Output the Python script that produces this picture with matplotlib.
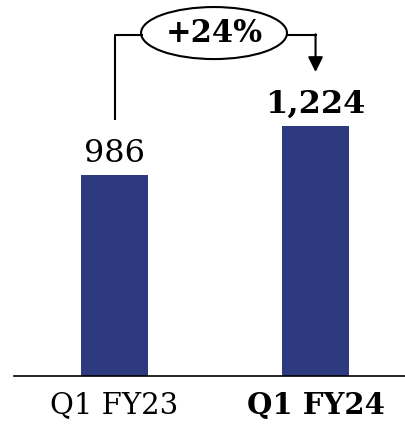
import matplotlib
matplotlib.use('Agg')
import matplotlib.pyplot as plot
from matplotlib.patches import Ellipse

categories = ['Q1 FY23', 'Q1 FY24']
values = [986, 1224]
value_labels = ['986', '1,224']
growth_label = '+24%'

bar_color = '#2E3A80'
plot.rcParams['font.family'] = 'DejaVu Serif'

figure = plot.figure(figsize=(4.06, 4.30), dpi=100)
axes = figure.add_axes([14/406, 54/430, 392/406, 376/430])

x = list(range(len(categories)))
axes.bar(x, values, width=0.333, color=bar_color)
axes.set_xlim(-0.5, 1.45)
axes.set_ylim(0, 1843)

for spine in ['top', 'right', 'left']:
    axes.spines[spine].set_visible(False)
axes.spines['bottom'].set_linewidth(1.2)
axes.set_yticks([])
axes.set_xticks(x)
axes.set_xticklabels(categories, fontsize=21)
axes.tick_params(axis='x', length=0, pad=11)
axes.get_xticklabels()[1].set_fontweight('bold')

#value labels on top of each bar, last one bold
for i in x:
    weight = 'bold' if i == len(x) - 1 else 'normal'
    axes.annotate(value_labels[i], (i, values[i]), xytext=(0, 9.5), textcoords='offset points',
                  ha='center', va='baseline', fontsize=23, fontweight=weight)

#growth connector with ellipse label
line_y = 1671
axes.plot([0, 0, 0.14], [1255, line_y, line_y], color='black', lw=1.5, solid_capstyle='butt')
axes.plot([0.862, 1.0], [line_y, line_y], color='black', lw=1.5)
axes.annotate('', xy=(1.0, 1490), xytext=(1.0, line_y + 4),
              arrowprops=dict(arrowstyle='-|>,head_length=0.9,head_width=0.45', color='black', lw=1.5,
                              shrinkA=0, shrinkB=0))
axes.add_patch(Ellipse((0.495, 1681), 0.726, 255, facecolor='white', edgecolor='black', lw=1.5))
axes.text(0.495, 1681, growth_label, ha='center', va='center', fontsize=22, fontweight='bold')

plot.savefig('out.png', dpi=100)
